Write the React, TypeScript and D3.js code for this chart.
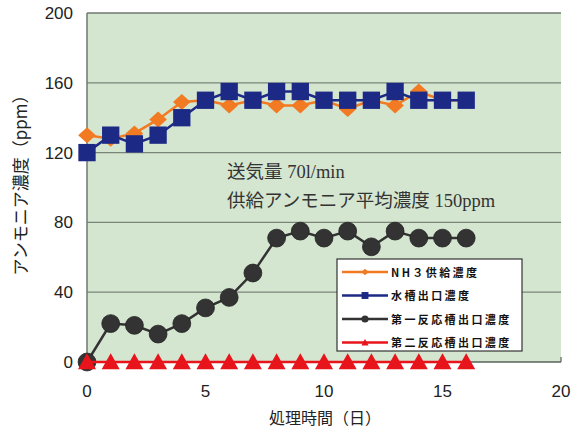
import React from "react";
import * as d3 from "d3";

const days = [0, 1, 2, 3, 4, 5, 6, 7, 8, 9, 10, 11, 12, 13, 14, 15, 16];
const nh3Supply = [130, 128, 131, 139, 149, 150, 147, 150, 147, 147, 150, 145, 150, 147, 155, 150, 150];
const tankOutlet = [120, 130, 125, 130, 140, 150, 155, 150, 155, 155, 150, 150, 150, 155, 150, 150, 150];
const firstReactor = [0, 22, 21, 16, 22, 31, 37, 51, 71, 75, 71, 75, 66, 75, 71, 71, 71];
const secondReactor = [0, 0, 0, 0, 0, 0, 0, 0, 0, 0, 0, 0, 0, 0, 0, 0, 0];
const seriesNames = ["NH３供給濃度", "水槽出口濃度", "第一反応槽出口濃度", "第二反応槽出口濃度"];
const xTicks = [0, 5, 10, 15, 20];
const yTicks = [0, 40, 80, 120, 160, 200];
const note1 = "送気量 70l/min";
const note2 = "供給アンモニア平均濃度 150ppm";
const xTitle = "処理時間（日）";
const yTitle = "アンモニア濃度（ppm）";

const W = 579, H = 433;
const L = 87, R = 561, T = 13, B = 362;

const x = d3.scaleLinear().domain([0, 20]).range([L, R]);
const y = d3.scaleLinear().domain([0, 200]).range([B, T]);

const colors = ["#f27a22", "#1c2a86", "#333333", "#e8141c"];
const shapes = [d3.symbolDiamond, d3.symbolSquare, d3.symbolCircle, d3.symbolTriangle];
const allSeries = [nh3Supply, tankOutlet, firstReactor, secondReactor];

const sans = "'Liberation Sans', Arial, 'Noto Sans CJK JP', sans-serif";
const jpSans = "'Noto Sans CJK JP', sans-serif";
const serif = "'Liberation Serif', 'Noto Sans CJK JP', serif";

function markPath(k: number, scale: number) {
  if (k === 0) {
    const w = 8.8 * scale, h = 8 * scale;
    return `M0,${-h}L${w},0L0,${h}L${-w},0Z`;
  }
  if (k === 1) return d3.symbol().type(shapes[k]).size(300 * scale * scale)()!;
  if (k === 2) return d3.symbol().type(shapes[k]).size(250 * scale * scale)()!;
  const s = 9 * scale, h = 16 * scale;
  return `M0,${-h * 0.55}L${s},${h * 0.45}L${-s},${h * 0.45}Z`;
}

export default function App() {
  const line = d3.line<number>().x((_, i) => x(days[i])).y((v) => y(v));
  const legendX = 337, legendY = 259, legendW = 185, legendH = 92;
  return (
    <svg width={W} height={H} style={{ position: "absolute", left: 0, top: 0, background: "#fff" }}>
      <rect x={L} y={T} width={R - L} height={B - T} fill="#d4e6d0" />
      {yTicks.filter((t) => t > 0 && t < 200).map((t) => (
        <line key={t} x1={L} x2={R} y1={y(t)} y2={y(t)} stroke="#7a857a" strokeWidth={1.3} />
      ))}
      <line x1={L} x2={R} y1={T} y2={T} stroke="#6f786f" strokeWidth={1.5} />
      <line x1={L} x2={L} y1={T} y2={B} stroke="#6f786f" strokeWidth={1.5} />
      <line x1={L} x2={R} y1={B} y2={B} stroke="#5a605a" strokeWidth={1.5} />
      {xTicks.map((t) => (
        <line key={t} x1={x(t)} x2={x(t)} y1={B} y2={B - 5} stroke="#5a605a" strokeWidth={1.2} />
      ))}
      {yTicks.map((t) => (
        <text key={t} x={73} y={y(t) + 6} textAnchor="end" fontFamily={sans} fontSize={17} fill="#222">
          {t}
        </text>
      ))}
      {xTicks.map((t) => (
        <text key={t} x={x(t)} y={397} textAnchor="middle" fontFamily={sans} fontSize={17} fill="#222">
          {t}
        </text>
      ))}
      <text x={325} y={424} textAnchor="middle" fontFamily={jpSans} fontSize={16} fill="#222">
        {xTitle}
      </text>
      <text
        transform={`translate(27,181) rotate(-90)`}
        textAnchor="middle"
        fontFamily={jpSans}
        fontSize={17}
        fill="#222"
      >
        {yTitle}
      </text>
      <text x={227} y={178} fontFamily={serif} fontSize={18.5} fill="#333">
        {note1}
      </text>
      <text x={227} y={207} fontFamily={serif} fontSize={18.5} fill="#333">
        {note2}
      </text>
      {allSeries.map((data, k) => (
        <g key={k}>
          <path d={line(data)!} fill="none" stroke={colors[k]} strokeWidth={2.5} />
          {data.map((v, i) => (
            <path
              key={i}
              d={markPath(k, 1)}
              transform={`translate(${x(days[i])},${y(v)})`}
              fill={colors[k]}
              stroke={k === 2 ? "#222" : "none"}
              strokeWidth={0.8}
            />
          ))}
        </g>
      ))}
      <rect x={legendX} y={legendY} width={legendW} height={legendH} fill="#ffffff" stroke="#333" strokeWidth={1.2} />
      {seriesNames.map((name, k) => {
        const ly = legendY + 13 + k * 23.5;
        return (
          <g key={k}>
            <line x1={legendX + 5} x2={legendX + 51} y1={ly} y2={ly} stroke={colors[k]} strokeWidth={2.5} />
            <path d={markPath(k, 0.4)} transform={`translate(${legendX + 28},${ly})`} fill={colors[k]} />
            <text
              x={legendX + 54}
              y={ly + 4.5}
              fontFamily={jpSans}
              fontSize={11}
              fontWeight={700}
              letterSpacing={2.4}
              fill="#111"
            >
              {name}
            </text>
          </g>
        );
      })}
    </svg>
  );
}
